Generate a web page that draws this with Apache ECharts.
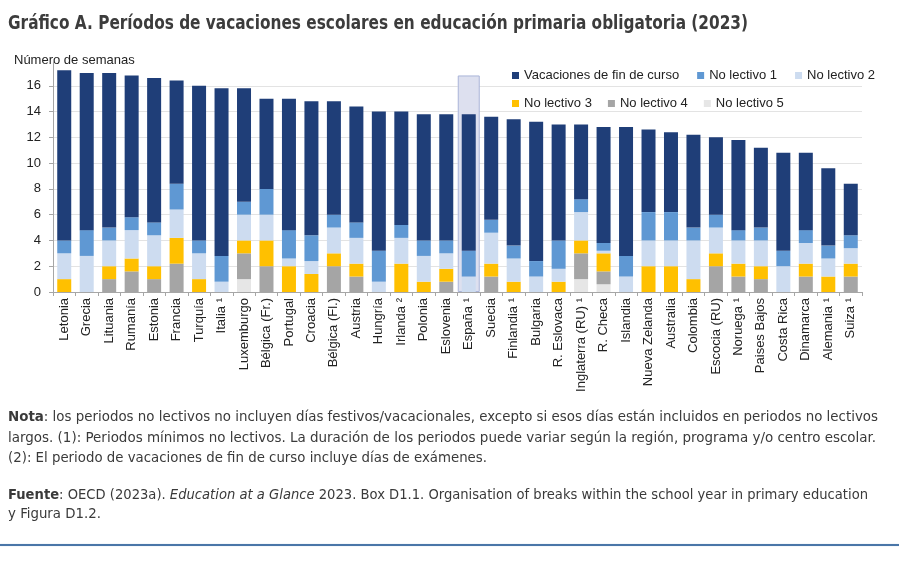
<!DOCTYPE html>
<html>
<head>
<meta charset="utf-8">
<script src="https://cdn.jsdelivr.net/npm/echarts@6.0.0/dist/echarts.min.js"></script>
<style>
  body { margin: 0; background: #fff; }
  #chart { position: absolute; left: 0; top: 0; width: 899px; height: 566px; }
  .txt { position: absolute; left: 8px; white-space: nowrap; display: inline-block;
         font-family: "Liberation Sans Narrow", "DejaVu Sans Condensed", Roboto, sans-serif;
         color: #3a3a3a; transform-origin: left center; }
  .title { top: 10px; font-size: 19px; font-weight: 600; line-height: 24px; color: #3c3c3c; }
  .note { font-size: 14.5px; line-height: 20px; }
  .rule { position: absolute; left: 0; top: 544px; width: 899px; height: 2px;
          background: #4a76a8; box-shadow: 0 0 1px #9db8d6; }
</style>
</head>
<body>
<div id="chart"></div>
<div class="txt title fit" data-w="740">Gráfico A. Períodos de vacaciones escolares en educación primaria obligatoria (2023)</div>
<div class="txt note fit" data-w="870" style="top:406px"><b>Nota</b>: los periodos no lectivos no incluyen días festivos/vacacionales, excepto si esos días están incluidos en periodos no lectivos</div>
<div class="txt note fit" data-w="868" style="top:427px">largos. (1): Periodos mínimos no lectivos. La duración de los periodos puede variar según la región, programa y/o centro escolar.</div>
<div class="txt note fit" data-w="479" style="top:447px">(2): El periodo de vacaciones de fin de curso incluye días de exámenes.</div>
<div class="txt note fit" data-w="860" style="top:484px"><b>Fuente</b>: OECD (2023a). <i>Education at a Glance</i> 2023. Box D1.1. Organisation of breaks within the school year in primary education</div>
<div class="txt note fit" data-w="93" style="top:503px">y Figura D1.2.</div>
<div class="rule"></div>
<script>
// categorías (países)
var paises = ['Letonia', 'Grecia', 'Lituania', 'Rumanía', 'Estonia', 'Francia', 'Turquía', 'Italia ¹',
  'Luxemburgo', 'Bélgica (Fr.)', 'Portugal', 'Croacia', 'Bélgica (Fl.)', 'Austria', 'Hungría', 'Irlanda ²',
  'Polonia', 'Eslovenia', 'España ¹', 'Suecia', 'Finlandia ¹', 'Bulgaria', 'R. Eslovaca', 'Inglaterra (RU) ¹',
  'R. Checa', 'Islandia', 'Nueva Zelanda', 'Australia', 'Colombia', 'Escocia (RU)', 'Noruega ¹',
  'Paises Bajos', 'Costa Rica', 'Dinamarca', 'Alemania ¹', 'Suiza ¹'];

// semanas por tipo de periodo
var vacFinCurso = [13.2, 12.2, 12, 11, 11.2, 8, 12, 13, 8.8, 7, 10.2, 10.4, 8.8, 9, 10.8, 8.8, 9.8, 9.8,
  10.6, 8, 9.8, 10.8, 9, 5.8, 9, 10, 6.4, 6.2, 7.2, 6, 7, 6.2, 7.6, 6, 6, 4];
var noLectivo1 = [1, 2, 1, 1, 1, 2, 1, 2, 1, 2, 2.2, 2, 1, 1.2, 2.4, 1, 1.2, 1,
  2, 1, 1, 1.2, 2.2, 1, 0.6, 1.6, 2.2, 2.2, 1, 1, 0.8, 1, 1.2, 1, 1, 1];
var noLectivo2 = [2, 2.8, 2, 2.2, 2.4, 2.2, 2, 0.8, 2, 2, 0.6, 1, 2, 2, 0.8, 2, 2, 1.2,
  1.2, 2.4, 1.8, 1.2, 1, 2.2, 0.2, 1.2, 2, 2, 3, 2, 1.8, 2, 2, 1.6, 1.4, 1.2];
var noLectivo3 = [1, 0, 1, 1, 1, 2, 1, 0, 1, 2, 2, 1.4, 1, 1, 0, 2.2, 0.8, 1,
  0, 1, 0.8, 0, 0.8, 1, 1.4, 0, 2, 2, 1, 1, 1, 1, 0, 1, 1.2, 1];
var noLectivo4 = [0, 0, 1, 1.6, 1, 2.2, 0, 0, 2, 2, 0, 0, 2, 1.2, 0, 0, 0, 0.8,
  0, 1.2, 0, 0, 0, 2, 1, 0, 0, 0, 0, 2, 1.2, 1, 0, 1.2, 0, 1.2];
var noLectivo5 = [0, 0, 0, 0, 0, 0, 0, 0, 1, 0, 0, 0, 0, 0, 0, 0, 0, 0,
  0, 0, 0, 0, 0, 1, 0.6, 0, 0, 0, 0, 0, 0, 0, 0, 0, 0, 0];

// país destacado y altura del recuadro
var paisDestacado = 'España ¹';
var alturaDestacado = 16.8;

var yTicks = [0, 2, 4, 6, 8, 10, 12, 14, 16];

var nombres = ['Vacaciones de fin de curso', 'No lectivo 1', 'No lectivo 2', 'No lectivo 3', 'No lectivo 4', 'No lectivo 5'];
var colores = ['#1f3e78', '#5f98d3', '#cddcf0', '#ffc000', '#a5a5a5', '#e6e6e6'];

function serie(nombre, datos, color) {
  return {
    name: nombre, type: 'bar', stack: 'total', data: datos, barWidth: 14, z: 3,
    itemStyle: { color: color }
  };
}

var chart = echarts.init(document.getElementById('chart'));
var fuente = 'Liberation Sans, Arial, sans-serif';

chart.setOption({
  animation: false,
  textStyle: { fontFamily: fuente },
  grid: { left: 53, right: 37, top: 60, bottom: 274, outerBoundsMode: 'none', containLabel: false },
  legend: [
    {
      data: nombres.slice(0, 3), left: 507, top: 64, itemWidth: 7, itemHeight: 7, itemGap: 18,
      icon: 'rect', textStyle: { fontSize: 13, color: '#222', fontFamily: fuente }, selectedMode: false
    },
    {
      data: nombres.slice(3), left: 507, top: 92, itemWidth: 7, itemHeight: 7, itemGap: 16,
      icon: 'rect', textStyle: { fontSize: 13, color: '#222', fontFamily: fuente }, selectedMode: false
    }
  ],
  graphic: [{
    type: 'text', left: 14, top: 54,
    style: { text: 'Número de semanas', font: '13px ' + fuente, fill: '#222' }
  }],
  xAxis: [
    {
      type: 'category', data: paises,
      axisLine: { lineStyle: { color: '#a6a6a6' } },
      axisTick: { show: true, alignWithLabel: false, length: 4, lineStyle: { color: '#a6a6a6' } },
      axisLabel: { rotate: 90, interval: 0, margin: 6, fontSize: 13, color: '#222', fontFamily: fuente }
    },
    { type: 'category', data: paises, show: false }
  ],
  yAxis: {
    type: 'value', min: 0, max: 18, interval: 2,
    axisLine: { show: true, lineStyle: { color: '#a6a6a6' } },
    axisTick: { show: true, length: 4, lineStyle: { color: '#a6a6a6' } },
    axisLabel: {
      fontSize: 13, color: '#222', margin: 12, fontFamily: fuente, showMaxLabel: false,
      formatter: function (v) { return yTicks.indexOf(v) >= 0 ? String(v) : ''; }
    },
    splitLine: { show: true, showMaxLine: false, lineStyle: { color: '#e3e3e3' } }
  },
  series: [
    serie(nombres[5], noLectivo5, colores[5]),
    serie(nombres[4], noLectivo4, colores[4]),
    serie(nombres[3], noLectivo3, colores[3]),
    serie(nombres[2], noLectivo2, colores[2]),
    serie(nombres[1], noLectivo1, colores[1]),
    serie(nombres[0], vacFinCurso, colores[0]),
    {
      // recuadro detrás de las barras del país destacado
      name: 'destacado', type: 'bar', xAxisIndex: 1, barWidth: 22, silent: true, z: 1,
      data: paises.map(function (p) { return p === paisDestacado ? alturaDestacado : null; }),
      itemStyle: { color: '#dde0ef', borderColor: '#aab4d8', borderWidth: 1 }
    }
  ]
});

// ajustar ancho de los textos
document.querySelectorAll('.fit').forEach(function (el) {
  var w = el.getBoundingClientRect().width;
  var t = +el.dataset.w;
  if (w > 0) el.style.transform = 'scaleX(' + (t / w) + ')';
});
</script>
</body>
</html>
